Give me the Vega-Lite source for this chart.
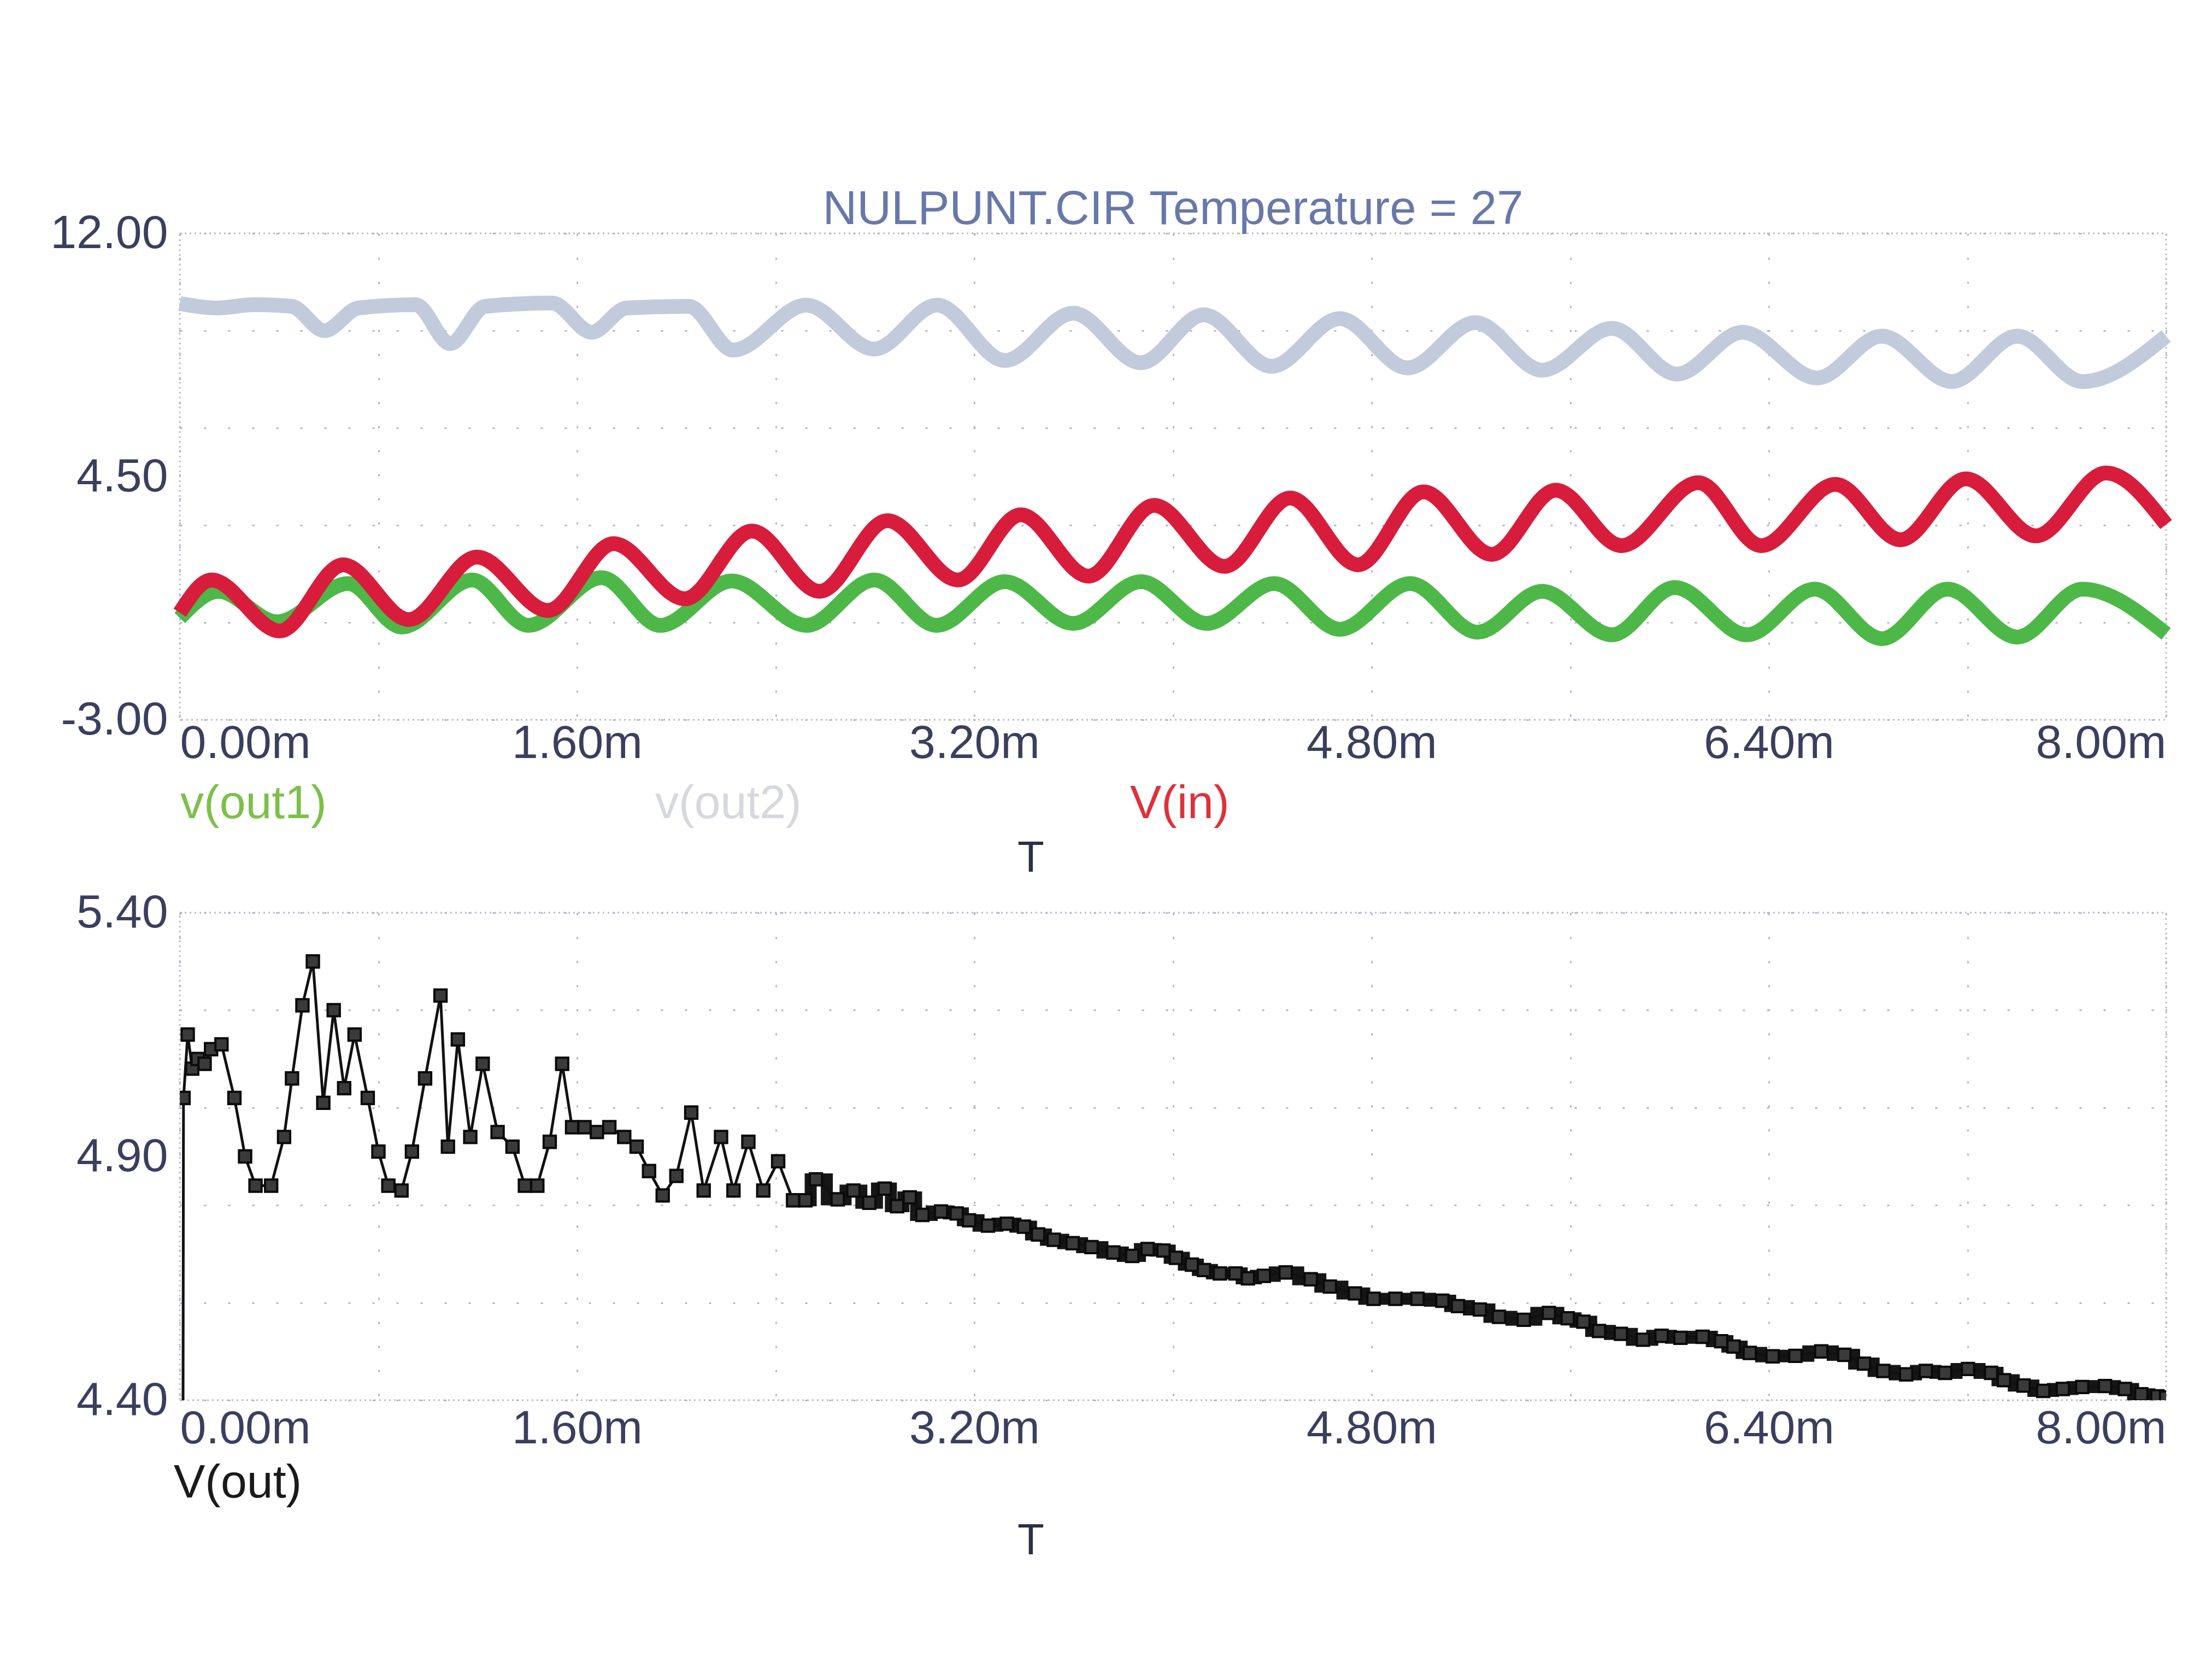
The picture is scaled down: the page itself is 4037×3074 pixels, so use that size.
{
  "$schema": "https://vega.github.io/schema/vega-lite/v6.json",
  "background": "white",
  "padding": {"left": 90, "top": 338, "right": 60, "bottom": 200},
  "config": {
    "font": "Liberation Sans",
    "view": {"stroke": "#b8bcc8", "strokeDash": [3, 6], "strokeWidth": 3},
    "axis": {
      "labelFont": "Liberation Sans", "labelFontSize": 86, "labelColor": "#3b3f5e", "labelLimit": 2000,
      "ticks": false, "domain": false,
      "gridColor": "#b4b8c4", "gridWidth": 3, "gridDash": [4, 40],
      "titleFont": "Liberation Sans", "titleFontSize": 80, "titleFontWeight": "normal", "titleColor": "#2c2f48",
      "labelOverlap": false
    },
    "legend": {
      "orient": "none", "direction": "horizontal", "title": null,
      "labelFont": "Liberation Sans", "labelFontSize": 86, "labelLimit": 2000,
      "symbolSize": 0, "symbolOpacity": 0, "symbolStrokeWidth": 0, "labelOffset": 0
    }
  },
  "spacing": 353,
  "bounds": "flush",
  "resolve": {"scale": {"color": "independent"}, "legend": {"color": "independent"}},
  "vconcat": [
    {
      "width": 3635,
      "height": 890,
      "title": {
        "text": "NULPUNT.CIR Temperature = 27", "font": "Liberation Sans", "fontSize": 87,
        "fontWeight": "normal", "color": "#6878a8", "anchor": "middle", "frame": "group",
        "baseline": "bottom", "offset": -131
      },
      "data": {"values": [
        {"series": "v(out2)", "t": 0.000, "v": 9.84},
        {"series": "v(out2)", "t": 0.150, "v": 9.70},
        {"series": "v(out2)", "t": 0.300, "v": 9.80},
        {"series": "v(out2)", "t": 0.450, "v": 9.75},
        {"series": "v(out2)", "t": 0.583, "v": 9.00},
        {"series": "v(out2)", "t": 0.720, "v": 9.70},
        {"series": "v(out2)", "t": 0.950, "v": 9.80},
        {"series": "v(out2)", "t": 1.089, "v": 8.60},
        {"series": "v(out2)", "t": 1.230, "v": 9.75},
        {"series": "v(out2)", "t": 1.500, "v": 9.85},
        {"series": "v(out2)", "t": 1.659, "v": 8.95},
        {"series": "v(out2)", "t": 1.800, "v": 9.70},
        {"series": "v(out2)", "t": 2.050, "v": 9.75},
        {"series": "v(out2)", "t": 2.229, "v": 8.40},
        {"series": "v(out2)", "t": 2.524, "v": 9.79},
        {"series": "v(out2)", "t": 2.797, "v": 8.43},
        {"series": "v(out2)", "t": 3.050, "v": 9.79},
        {"series": "v(out2)", "t": 3.323, "v": 8.08},
        {"series": "v(out2)", "t": 3.598, "v": 9.54},
        {"series": "v(out2)", "t": 3.871, "v": 8.01},
        {"series": "v(out2)", "t": 4.124, "v": 9.49},
        {"series": "v(out2)", "t": 4.397, "v": 7.90},
        {"series": "v(out2)", "t": 4.672, "v": 9.37},
        {"series": "v(out2)", "t": 4.945, "v": 7.85},
        {"series": "v(out2)", "t": 5.218, "v": 9.25},
        {"series": "v(out2)", "t": 5.487, "v": 7.78},
        {"series": "v(out2)", "t": 5.768, "v": 9.07},
        {"series": "v(out2)", "t": 6.030, "v": 7.66},
        {"series": "v(out2)", "t": 6.294, "v": 8.95},
        {"series": "v(out2)", "t": 6.594, "v": 7.54},
        {"series": "v(out2)", "t": 6.855, "v": 8.83},
        {"series": "v(out2)", "t": 7.137, "v": 7.43},
        {"series": "v(out2)", "t": 7.401, "v": 8.83},
        {"series": "v(out2)", "t": 7.663, "v": 7.43},
        {"series": "v(out2)", "t": 8.000, "v": 8.83},
        {"series": "v(out1)", "t": 0.000, "v": 0.14},
        {"series": "v(out1)", "t": 0.156, "v": 0.96},
        {"series": "v(out1)", "t": 0.392, "v": 0.02},
        {"series": "v(out1)", "t": 0.678, "v": 1.20},
        {"series": "v(out1)", "t": 0.894, "v": -0.14},
        {"series": "v(out1)", "t": 1.177, "v": 1.31},
        {"series": "v(out1)", "t": 1.404, "v": -0.09},
        {"series": "v(out1)", "t": 1.699, "v": 1.38},
        {"series": "v(out1)", "t": 1.935, "v": -0.09},
        {"series": "v(out1)", "t": 2.223, "v": 1.28},
        {"series": "v(out1)", "t": 2.524, "v": -0.09},
        {"series": "v(out1)", "t": 2.797, "v": 1.31},
        {"series": "v(out1)", "t": 3.048, "v": -0.09},
        {"series": "v(out1)", "t": 3.323, "v": 1.26},
        {"series": "v(out1)", "t": 3.598, "v": -0.03},
        {"series": "v(out1)", "t": 3.871, "v": 1.26},
        {"series": "v(out1)", "t": 4.135, "v": -0.03},
        {"series": "v(out1)", "t": 4.408, "v": 1.20},
        {"series": "v(out1)", "t": 4.672, "v": -0.21},
        {"series": "v(out1)", "t": 4.956, "v": 1.20},
        {"series": "v(out1)", "t": 5.227, "v": -0.30},
        {"series": "v(out1)", "t": 5.487, "v": 0.96},
        {"series": "v(out1)", "t": 5.768, "v": -0.38},
        {"series": "v(out1)", "t": 6.021, "v": 1.08},
        {"series": "v(out1)", "t": 6.312, "v": -0.38},
        {"series": "v(out1)", "t": 6.585, "v": 1.03},
        {"series": "v(out1)", "t": 6.855, "v": -0.50},
        {"series": "v(out1)", "t": 7.120, "v": 1.03},
        {"series": "v(out1)", "t": 7.401, "v": -0.45},
        {"series": "v(out1)", "t": 7.663, "v": 1.03},
        {"series": "v(out1)", "t": 8.000, "v": -0.35},
        {"series": "V(in)", "t": 0.000, "v": 0.30},
        {"series": "V(in)", "t": 0.128, "v": 1.31},
        {"series": "V(in)", "t": 0.403, "v": -0.26},
        {"series": "V(in)", "t": 0.658, "v": 1.78},
        {"series": "V(in)", "t": 0.922, "v": 0.09},
        {"series": "V(in)", "t": 1.197, "v": 2.02},
        {"series": "V(in)", "t": 1.483, "v": 0.37},
        {"series": "V(in)", "t": 1.747, "v": 2.43},
        {"series": "V(in)", "t": 2.034, "v": 0.73},
        {"series": "V(in)", "t": 2.304, "v": 2.82},
        {"series": "V(in)", "t": 2.577, "v": 0.96},
        {"series": "V(in)", "t": 2.850, "v": 3.14},
        {"series": "V(in)", "t": 3.134, "v": 1.31},
        {"series": "V(in)", "t": 3.387, "v": 3.32},
        {"series": "V(in)", "t": 3.660, "v": 1.43},
        {"series": "V(in)", "t": 3.924, "v": 3.61},
        {"series": "V(in)", "t": 4.208, "v": 1.73},
        {"series": "V(in)", "t": 4.472, "v": 3.84},
        {"series": "V(in)", "t": 4.745, "v": 1.78},
        {"series": "V(in)", "t": 5.009, "v": 4.03},
        {"series": "V(in)", "t": 5.284, "v": 2.10},
        {"series": "V(in)", "t": 5.542, "v": 4.08},
        {"series": "V(in)", "t": 5.806, "v": 2.37},
        {"series": "V(in)", "t": 6.116, "v": 4.31},
        {"series": "V(in)", "t": 6.369, "v": 2.37},
        {"series": "V(in)", "t": 6.668, "v": 4.26},
        {"series": "V(in)", "t": 6.930, "v": 2.55},
        {"series": "V(in)", "t": 7.194, "v": 4.43},
        {"series": "V(in)", "t": 7.476, "v": 2.67},
        {"series": "V(in)", "t": 7.758, "v": 4.61},
        {"series": "V(in)", "t": 8.000, "v": 3.02}
      ]},
      "mark": {"type": "line", "interpolate": "monotone", "strokeWidth": 27},
      "encoding": {
        "x": {
          "field": "t", "type": "quantitative",
          "scale": {"domain": [0, 8], "nice": false, "zero": false},
          "axis": {
            "values": [0, 0.8, 1.6, 2.4, 3.2, 4, 4.8, 5.6, 6.4, 7.2, 8],
            "labelExpr": "indexof([0, 1.6, 3.2, 4.8, 6.4, 8], datum.value) >= 0 ? format(datum.value, '.2f') + 'm' : ''",
            "labelFlush": true, "labelPadding": 1,
            "title": "T", "titleX": 1557, "titleY": 253, "titleBaseline": "middle"
          }
        },
        "y": {
          "field": "v", "type": "quantitative",
          "scale": {"domain": [-3, 12], "nice": false, "zero": false},
          "axis": {
            "values": [-3, 0, 3, 4.5, 6, 9, 12],
            "labelExpr": "indexof([12, 4.5, -3], datum.value) >= 0 ? (datum.value < 0 ? '-' + format(-datum.value, '.2f') : format(datum.value, '.2f')) : ''",
            "labelPadding": 22, "title": null,
            "gridOpacity": {"condition": {"test": "datum.value === 4.5", "value": 0}, "value": 1}
          }
        },
        "color": {
          "field": "series", "type": "nominal",
          "scale": {"domain": ["v(out1)", "v(out2)", "V(in)"], "range": ["#4db848", "#c2cbdc", "#d81c3c"]},
          "legend": {
            "legendX": -85, "legendY": 1001, "columnPadding": 515,
            "encode": {"labels": {"update": {"fill": {"signal": "datum.value === 'V(in)' ? '#e0303a' : datum.value === 'v(out1)' ? '#7cc04a' : '#d6d8de'"}}}}
          }
        }
      }
    },
    {
      "width": 3635,
      "height": 892,
      "data": {"values": [
        {"series": "V(out)", "t": 0.000, "v": 0},
        {"series": "V(out)", "t": 0.015, "v": 5.02},
        {"series": "V(out)", "t": 0.032, "v": 5.15},
        {"series": "V(out)", "t": 0.050, "v": 5.08},
        {"series": "V(out)", "t": 0.072, "v": 5.10},
        {"series": "V(out)", "t": 0.100, "v": 5.09},
        {"series": "V(out)", "t": 0.126, "v": 5.12},
        {"series": "V(out)", "t": 0.168, "v": 5.13},
        {"series": "V(out)", "t": 0.220, "v": 5.02},
        {"series": "V(out)", "t": 0.263, "v": 4.90},
        {"series": "V(out)", "t": 0.305, "v": 4.84},
        {"series": "V(out)", "t": 0.368, "v": 4.84},
        {"series": "V(out)", "t": 0.420, "v": 4.94},
        {"series": "V(out)", "t": 0.452, "v": 5.06},
        {"series": "V(out)", "t": 0.494, "v": 5.21},
        {"series": "V(out)", "t": 0.536, "v": 5.30},
        {"series": "V(out)", "t": 0.578, "v": 5.01},
        {"series": "V(out)", "t": 0.620, "v": 5.20},
        {"series": "V(out)", "t": 0.662, "v": 5.04},
        {"series": "V(out)", "t": 0.704, "v": 5.15},
        {"series": "V(out)", "t": 0.757, "v": 5.02},
        {"series": "V(out)", "t": 0.800, "v": 4.91},
        {"series": "V(out)", "t": 0.840, "v": 4.84},
        {"series": "V(out)", "t": 0.893, "v": 4.83},
        {"series": "V(out)", "t": 0.935, "v": 4.91},
        {"series": "V(out)", "t": 0.988, "v": 5.06},
        {"series": "V(out)", "t": 1.050, "v": 5.23},
        {"series": "V(out)", "t": 1.080, "v": 4.92},
        {"series": "V(out)", "t": 1.120, "v": 5.14},
        {"series": "V(out)", "t": 1.170, "v": 4.94},
        {"series": "V(out)", "t": 1.220, "v": 5.09},
        {"series": "V(out)", "t": 1.280, "v": 4.95},
        {"series": "V(out)", "t": 1.340, "v": 4.92},
        {"series": "V(out)", "t": 1.390, "v": 4.84},
        {"series": "V(out)", "t": 1.440, "v": 4.84},
        {"series": "V(out)", "t": 1.490, "v": 4.93},
        {"series": "V(out)", "t": 1.540, "v": 5.09},
        {"series": "V(out)", "t": 1.580, "v": 4.96},
        {"series": "V(out)", "t": 1.630, "v": 4.96},
        {"series": "V(out)", "t": 1.680, "v": 4.95},
        {"series": "V(out)", "t": 1.730, "v": 4.96},
        {"series": "V(out)", "t": 1.790, "v": 4.94},
        {"series": "V(out)", "t": 1.840, "v": 4.92},
        {"series": "V(out)", "t": 1.890, "v": 4.87},
        {"series": "V(out)", "t": 1.945, "v": 4.82},
        {"series": "V(out)", "t": 2.000, "v": 4.86},
        {"series": "V(out)", "t": 2.060, "v": 4.99},
        {"series": "V(out)", "t": 2.110, "v": 4.83},
        {"series": "V(out)", "t": 2.180, "v": 4.94},
        {"series": "V(out)", "t": 2.230, "v": 4.83},
        {"series": "V(out)", "t": 2.290, "v": 4.93},
        {"series": "V(out)", "t": 2.350, "v": 4.83},
        {"series": "V(out)", "t": 2.410, "v": 4.89},
        {"series": "V(out)", "t": 2.470, "v": 4.81},
        {"series": "V(out)", "t": 2.520, "v": 4.81},
        {"series": "V(out)", "t": 2.562, "v": 4.853},
        {"series": "V(out)", "t": 2.650, "v": 4.812},
        {"series": "V(out)", "t": 2.713, "v": 4.830},
        {"series": "V(out)", "t": 2.777, "v": 4.805},
        {"series": "V(out)", "t": 2.839, "v": 4.834},
        {"series": "V(out)", "t": 2.889, "v": 4.798},
        {"series": "V(out)", "t": 2.940, "v": 4.816},
        {"series": "V(out)", "t": 2.991, "v": 4.780},
        {"series": "V(out)", "t": 3.066, "v": 4.787},
        {"series": "V(out)", "t": 3.129, "v": 4.783},
        {"series": "V(out)", "t": 3.179, "v": 4.769},
        {"series": "V(out)", "t": 3.255, "v": 4.758},
        {"series": "V(out)", "t": 3.331, "v": 4.762},
        {"series": "V(out)", "t": 3.400, "v": 4.756},
        {"series": "V(out)", "t": 3.457, "v": 4.740},
        {"series": "V(out)", "t": 3.520, "v": 4.729},
        {"series": "V(out)", "t": 3.596, "v": 4.722},
        {"series": "V(out)", "t": 3.672, "v": 4.714},
        {"series": "V(out)", "t": 3.760, "v": 4.703},
        {"series": "V(out)", "t": 3.836, "v": 4.696},
        {"series": "V(out)", "t": 3.898, "v": 4.710},
        {"series": "V(out)", "t": 3.962, "v": 4.707},
        {"series": "V(out)", "t": 4.012, "v": 4.692},
        {"series": "V(out)", "t": 4.076, "v": 4.678},
        {"series": "V(out)", "t": 4.125, "v": 4.667},
        {"series": "V(out)", "t": 4.189, "v": 4.660},
        {"series": "V(out)", "t": 4.252, "v": 4.660},
        {"series": "V(out)", "t": 4.302, "v": 4.650},
        {"series": "V(out)", "t": 4.366, "v": 4.655},
        {"series": "V(out)", "t": 4.454, "v": 4.662},
        {"series": "V(out)", "t": 4.555, "v": 4.648},
        {"series": "V(out)", "t": 4.632, "v": 4.633},
        {"series": "V(out)", "t": 4.733, "v": 4.619},
        {"series": "V(out)", "t": 4.808, "v": 4.608},
        {"series": "V(out)", "t": 4.896, "v": 4.608},
        {"series": "V(out)", "t": 4.985, "v": 4.608},
        {"series": "V(out)", "t": 5.085, "v": 4.604},
        {"series": "V(out)", "t": 5.148, "v": 4.593},
        {"series": "V(out)", "t": 5.236, "v": 4.586},
        {"series": "V(out)", "t": 5.313, "v": 4.571},
        {"series": "V(out)", "t": 5.413, "v": 4.565},
        {"series": "V(out)", "t": 5.514, "v": 4.579},
        {"series": "V(out)", "t": 5.590, "v": 4.568},
        {"series": "V(out)", "t": 5.653, "v": 4.561},
        {"series": "V(out)", "t": 5.716, "v": 4.542},
        {"series": "V(out)", "t": 5.804, "v": 4.536},
        {"series": "V(out)", "t": 5.893, "v": 4.524},
        {"series": "V(out)", "t": 5.968, "v": 4.532},
        {"series": "V(out)", "t": 6.044, "v": 4.528},
        {"series": "V(out)", "t": 6.133, "v": 4.530},
        {"series": "V(out)", "t": 6.208, "v": 4.521},
        {"series": "V(out)", "t": 6.258, "v": 4.510},
        {"series": "V(out)", "t": 6.323, "v": 4.497},
        {"series": "V(out)", "t": 6.415, "v": 4.490},
        {"series": "V(out)", "t": 6.507, "v": 4.491},
        {"series": "V(out)", "t": 6.611, "v": 4.500},
        {"series": "V(out)", "t": 6.704, "v": 4.493},
        {"series": "V(out)", "t": 6.783, "v": 4.475},
        {"series": "V(out)", "t": 6.861, "v": 4.460},
        {"series": "V(out)", "t": 6.953, "v": 4.453},
        {"series": "V(out)", "t": 7.032, "v": 4.460},
        {"series": "V(out)", "t": 7.110, "v": 4.456},
        {"series": "V(out)", "t": 7.202, "v": 4.464},
        {"series": "V(out)", "t": 7.295, "v": 4.456},
        {"series": "V(out)", "t": 7.347, "v": 4.441},
        {"series": "V(out)", "t": 7.426, "v": 4.430},
        {"series": "V(out)", "t": 7.505, "v": 4.419},
        {"series": "V(out)", "t": 7.584, "v": 4.423},
        {"series": "V(out)", "t": 7.662, "v": 4.427},
        {"series": "V(out)", "t": 7.754, "v": 4.429},
        {"series": "V(out)", "t": 7.834, "v": 4.423},
        {"series": "V(out)", "t": 7.900, "v": 4.412},
        {"series": "V(out)", "t": 7.965, "v": 4.408},
        {"series": "V(out)", "t": 8.000, "v": 4.405}
      ]},
      "encoding": {
        "x": {
          "field": "t", "type": "quantitative",
          "scale": {"domain": [0, 8], "nice": false, "zero": false},
          "axis": {
            "values": [0, 0.8, 1.6, 2.4, 3.2, 4, 4.8, 5.6, 6.4, 7.2, 8],
            "labelExpr": "indexof([0, 1.6, 3.2, 4.8, 6.4, 8], datum.value) >= 0 ? format(datum.value, '.2f') + 'm' : ''",
            "labelFlush": true, "labelPadding": 10,
            "title": "T", "titleX": 1557, "titleY": 257, "titleBaseline": "middle"
          }
        },
        "y": {
          "field": "v", "type": "quantitative",
          "scale": {"domain": [4.4, 5.4], "nice": false, "zero": false},
          "axis": {
            "values": [4.4, 4.6, 4.8, 4.9, 5, 5.2, 5.4],
            "labelExpr": "indexof([5.4, 4.9, 4.4], datum.value) >= 0 ? format(datum.value, '.2f') : ''",
            "labelPadding": 22, "title": null,
            "gridOpacity": {"condition": {"test": "datum.value === 4.9", "value": 0}, "value": 1}
          }
        }
      },
      "layer": [
        {
          "transform": [{"filter": "datum.t >= 2.45"}],
          "mark": {"type": "line", "interpolate": "step", "strokeWidth": 22, "color": "#161616", "clip": true},
          "encoding": {}
        },
        {
          "mark": {"type": "line", "strokeWidth": 5, "clip": true},
          "encoding": {
            "color": {
              "field": "series", "type": "nominal",
              "scale": {"domain": ["V(out)"], "range": ["#111111"]},
              "legend": {"legendX": -97, "legendY": 1001, "labelColor": "#1a1a1a"}
            }
          }
        },
        {
          "mark": {"type": "point", "shape": "square", "size": 500, "filled": true, "fill": "#3a3a3a", "stroke": "#0a0a0a", "strokeWidth": 4, "opacity": 1, "clip": true},
          "encoding": {}
        }
      ]
    }
  ]
}
